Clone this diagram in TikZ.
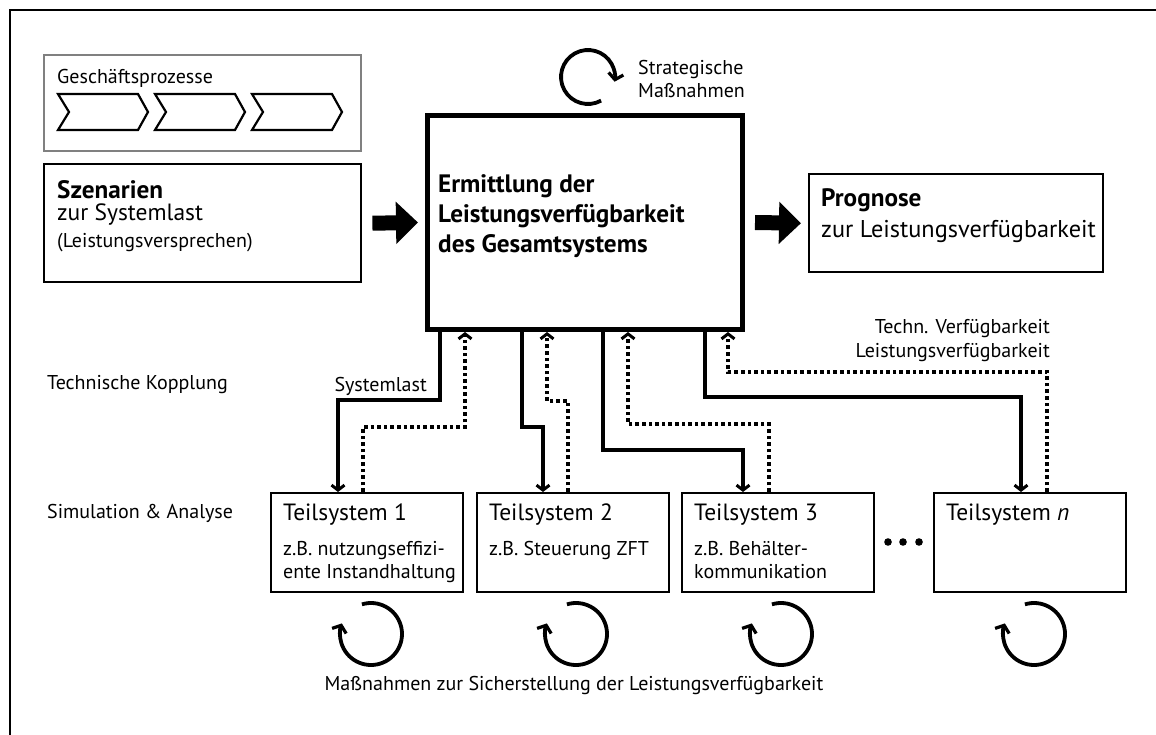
\documentclass[tikz,border=0pt]{standalone}
\usepackage{fontspec}
\setmainfont{PT Sans}
\usetikzlibrary{arrows.meta,positioning,calc}

\tikzstyle{frame} = [rectangle, draw, anchor=north west, inner sep=0pt, line width=2.4pt]
\tikzstyle{sysbox} = [frame, minimum width=192pt, minimum height=99pt]
\tikzstyle{headtext} = [anchor=base west, inner sep=0pt, font=\fontsize{23.5}{27}\selectfont]
\tikzstyle{headbold} = [headtext, font=\fontsize{25.2}{29}\selectfont\bfseries]
\tikzstyle{bodytext} = [anchor=base west, inner sep=0pt, font=\fontsize{20}{23}\selectfont]
\tikzstyle{load} = [line width=3.4pt, -{Straight Barb[length=5pt,width=13pt,line width=3pt]}]
\tikzstyle{feedback} = [load, line width=3.6pt, dash pattern=on 3.6pt off 3pt]
\tikzstyle{fatarrow} = [line width=15pt, -{Triangle[length=22pt,width=41pt]}]
\tikzstyle{loopline} = [line width=3.8pt, -{Straight Barb[length=6pt,width=15pt,line width=3.2pt]}]

\begin{document}
\begin{tikzpicture}[x=1pt, y=-1pt]
	\useasboundingbox (0,0) rectangle (1156,735);
	\draw[line width=1.6pt] (10,735) -- (10,10) -- (1156,10);

	% Geschaeftsprozesse
	\node [frame, draw=black!50, line width=2pt, minimum width=317pt, minimum height=96pt] (proc) at (43,54) {};
	\node [bodytext] (proctitle) at (57,84) {Geschäftsprozesse};
	\foreach \i in {0,1,2}
		\draw[line width=2.2pt, xshift=\i*97pt] (58,94) -- (138,94) -- (148,112) -- (138,130) -- (58,130) -- (69,112) -- cycle;

	% Szenarien
	\node [frame, minimum width=317pt, minimum height=118pt] (scen) at (43,163) {};
	\node [headbold] (scen1) at (57,199) {Szenarien};
	\node [headtext] (scen2) at (57,221) {zur Systemlast};
	\node [bodytext] (scen3) at (57,248) {(Leistungsversprechen)};

	% Gesamtsystem
	\node [frame, line width=5pt, minimum width=315pt, minimum height=214pt] (main) at (425,113) {};
	\node [headbold] (main1) at (438,193) {Ermittlung der};
	\node [headbold] (main2) at (438,223) {Leistungsverfügbarkeit};
	\node [headbold] (main3) at (438,253) {des Gesamtsystems};

	% Prognose
	\node [frame, minimum width=294pt, minimum height=98pt] (prog) at (808,173) {};
	\node [headbold] (prog1) at (821,207) {Prognose};
	\node [headtext, font=\fontsize{24.3}{28}\selectfont] (prog2) at (821,238) {zur Leistungsverfügbarkeit};

	\draw[fatarrow] ([xshift=10pt]scen.east) -- ([xshift=-7pt]main.west);
	\draw[fatarrow] ([xshift=10pt]main.east) -- ([xshift=-7pt]prog.west);

	% Strategische Massnahmen
	\draw[loopline] (588,77) ++(61:27) arc[start angle=61, end angle=370, radius=27];
	\node [bodytext] (strat1) at (638,75) {Strategische};
	\node [bodytext] (strat2) at (638,98) {Maßnahmen};

	% Teilsysteme
	\node [sysbox] (ts1) at (270,492) {};
	\node [sysbox] (ts2) at (476,492) {};
	\node [sysbox] (ts3) at (681,492) {};
	\node [sysbox] (tsn) at (933,492) {};
	\node [headtext] (ts1a) at (283,520) {Teilsystem 1};
	\node [bodytext] (ts1b) at (283,555) {z.B. nutzungseffizi-};
	\node [bodytext] (ts1c) at (283,578) {ente Instandhaltung};
	\node [headtext] (ts2a) at (489,520) {Teilsystem 2};
	\node [bodytext] (ts2b) at (489,555) {z.B. Steuerung ZFT};
	\node [headtext] (ts3a) at (694,520) {Teilsystem 3};
	\node [bodytext] (ts3b) at (694,555) {z.B. Behälter-};
	\node [bodytext] (ts3c) at (694,578) {kommunikation};
	\node [headtext] (tsna) at (946,520) {Teilsystem \textit{n}};
	\foreach \x in {888,903,919}
		\fill (\x,542) circle (3.8pt);

	% Kopplung
	\draw[load] ([xshift=15pt]main.south west) -- ++(0,68) -| ([xshift=68pt]ts1.north west);
	\draw[load] ([xshift=97pt]main.south west) -- ++(0,95) -| ([xshift=67pt]ts2.north west);
	\draw[load] ([xshift=178pt]main.south west) -- ++(0,118) -| ([xshift=62pt]ts3.north west);
	\draw[load] ([xshift=280pt]main.south west) -- ++(0,65) -| ([xshift=88pt]tsn.north west);
	\draw[feedback] ([xshift=93pt]ts1.north west) -- ++(0,-65) -| ([xshift=40pt]main.south west);
	\draw[feedback] ([xshift=92pt]ts2.north west) -- ++(0,-91) -| ([xshift=122pt]main.south west);
	\draw[feedback] ([xshift=88pt]ts3.north west) -- ++(0,-68) -| ([xshift=203pt]main.south west);
	\draw[feedback] ([xshift=114pt]tsn.north west) -- ++(0,-120) -| ([xshift=303pt]main.south west);

	\node [bodytext, anchor=base east] (lastlbl) at (427,391) {Systemlast};
	\node [bodytext, anchor=base east] (avail1) at (1050,333) {Techn. Verfügbarkeit};
	\node [bodytext, anchor=base east] (avail2) at (1050,357) {Leistungsverfügbarkeit};
	\node [bodytext] (couple) at (47,389) {Technische Kopplung};
	\node [bodytext] (simu) at (47,518) {Simulation \& Analyse};

	% Massnahmen
	\foreach \x in {371,576,781,1034}
		\draw[loopline] (\x,634) ++(-107:31) arc[start angle=-107, end angle=200, radius=31];
	\node [bodytext, anchor=base] (measures) at (574,690) {Maßnahmen zur Sicherstellung der Leistungsverfügbarkeit};
\end{tikzpicture}
\end{document}
